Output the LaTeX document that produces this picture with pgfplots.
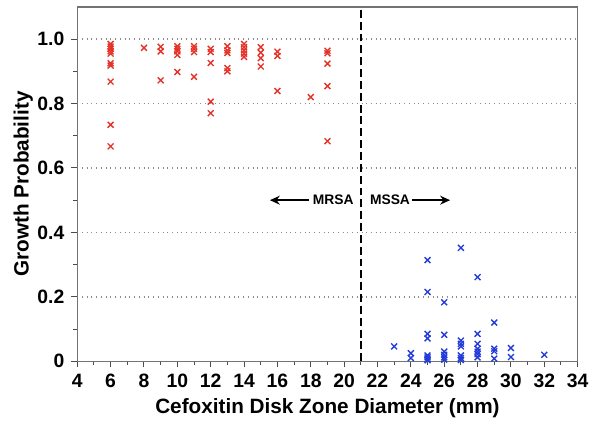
\documentclass[border=0pt]{standalone}
\usepackage{pgfplots}
\pgfplotsset{compat=1.18}
\usepackage{fontspec}
\setmainfont{Liberation Sans}
\usetikzlibrary{arrows.meta}

\definecolor{mrsared}{RGB}{228,50,40}
\definecolor{mssablue}{RGB}{35,60,215}

\begin{document}
\begin{tikzpicture}
\begin{axis}[
    scale only axis,
    width=253.5pt,
    height=179.5pt,
    xmin=4, xmax=34,
    ymin=0, ymax=1.1,
    xtick={4,6,...,34},
    minor x tick num=1,
    ytick={0,0.2,0.4,0.6,0.8,1.0},
    yticklabels={0,0.2,0.4,0.6,0.8,1.0},
    minor y tick num=1,
    tick align=outside,
    xtick pos=lower, ytick pos=left,
    major tick length=3pt, minor tick length=2pt,
    tick style={black!70, line width=0.5pt},
    axis line style={black!55, line width=0.6pt},
    ymajorgrids,
    major grid style={black!45, dotted, line width=0.7pt},
    /pgf/number format/assume math mode=true,
    ticklabel style={font=\fontsize{9.8}{10}\selectfont\bfseries},
    label style={font=\fontsize{10.5}{12}\selectfont\bfseries},
    xlabel={Cefoxitin Disk Zone Diameter (mm)},
    ylabel={Growth Probability},
    xlabel style={yshift=1.5pt},
    ylabel style={yshift=-4.5pt},
    clip=false,
]
% cutoff at 21 mm
\addplot[black, dashed, line width=0.9pt, dash pattern=on 4pt off 2pt, forget plot]
    coordinates {(21,0) (21,1.1)};

% MRSA isolates
\addplot[only marks, mark=x, mark size=2.1pt, mrsared, mark options={line width=0.7pt}]
coordinates {
 (6,0.985) (6,0.977) (6,0.970) (6,0.962) (6,0.955) (6,0.925) (6,0.918) (6,0.868) (6,0.734) (6,0.667)
 (8,0.973)
 (9,0.976) (9,0.962) (9,0.872)
 (10,0.978) (10,0.970) (10,0.962) (10,0.951) (10,0.898)
 (11,0.978) (11,0.970) (11,0.960) (11,0.883)
 (12,0.970) (12,0.960) (12,0.926) (12,0.806) (12,0.770)
 (13,0.978) (13,0.965) (13,0.957) (13,0.910) (13,0.900)
 (14,0.985) (14,0.975) (14,0.965) (14,0.955) (14,0.945)
 (15,0.975) (15,0.958) (15,0.941) (15,0.915)
 (16,0.961) (16,0.948) (16,0.839)
 (18,0.820)
 (19,0.964) (19,0.956) (19,0.924) (19,0.854) (19,0.683)
};

% MSSA isolates
\addplot[only marks, mark=x, mark size=2.1pt, mssablue, mark options={line width=0.7pt}]
coordinates {
 (23,0.046)
 (24,0.025) (24,0.010)
 (25,0.314) (25,0.215) (25,0.085) (25,0.071) (25,0.018) (25,0.012) (25,0.006) (25,0.003)
 (26,0.183) (26,0.082) (26,0.030) (26,0.020) (26,0.012) (26,0.005)
 (27,0.352) (27,0.064) (27,0.054) (27,0.046) (27,0.018) (27,0.010) (27,0.004)
 (28,0.261) (28,0.085) (28,0.054) (28,0.039) (28,0.030) (28,0.022) (28,0.012)
 (29,0.120) (29,0.039) (29,0.031) (29,0.008)
 (30,0.041) (30,0.013)
 (32,0.020)
};

\draw[-{Stealth[length=5pt,width=4.5pt]}, line width=1pt] (axis cs:17.9,0.5) -- (axis cs:15.55,0.5);
\draw[-{Stealth[length=5pt,width=4.5pt]}, line width=1pt] (axis cs:24.05,0.5) -- (axis cs:26.35,0.5);
\node[font=\fontsize{7}{8}\selectfont\bfseries] at (axis cs:19.35,0.5) {MRSA};
\node[font=\fontsize{7}{8}\selectfont\bfseries] at (axis cs:22.75,0.5) {MSSA};
% a little room above the frame
\path (rel axis cs:0,1) -- ++(0,3.5pt);
\end{axis}
% a little room on the left
\path (current bounding box.west) -- ++(-3.5pt,0);
\end{tikzpicture}
\end{document}
